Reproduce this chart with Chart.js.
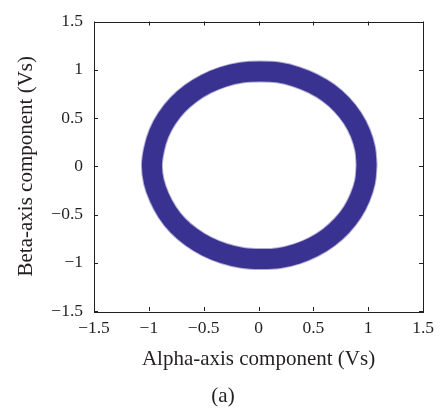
<!DOCTYPE html>
<html>
<head>
<meta charset="utf-8">
<script src="https://cdn.jsdelivr.net/npm/chart.js@4"></script>
<style>
  html, body { margin: 0; padding: 0; background: #fff; }
  #wrap { position: relative; width: 441px; height: 413px; }
  #caption {
    position: absolute; left: 0; width: 441px; top: 383px;
    text-align: center; font-family: 'Liberation Serif', serif; font-size: 21px; color: #231f20;
    padding-left: 5px; box-sizing: border-box;
  }
</style>
</head>
<body>
<div id="wrap">
  <canvas id="fluxChart" width="441" height="413"></canvas>
  <div id="caption">(a)</div>
</div>
<script>
// Stator flux trajectory (centre line of the ring)
const alphaFlux = [0.985, 0.972, 0.928, 0.856, 0.758, 0.638, 0.497, 0.342, 0.178, 0.012,
  -0.158, -0.322, -0.478, -0.618, -0.738, -0.835, -0.908, -0.952, -0.972, -0.955,
  -0.905, -0.832, -0.735, -0.612, -0.472, -0.315, -0.148, 0.022, 0.188, 0.350,
  0.502, 0.640, 0.758, 0.855, 0.926, 0.971, 0.985];
const betaFlux = [0.012, 0.180, 0.345, 0.500, 0.640, 0.760, 0.856, 0.928, 0.972, 0.982,
  0.970, 0.926, 0.853, 0.755, 0.636, 0.497, 0.342, 0.178, 0.010, -0.158,
  -0.322, -0.476, -0.615, -0.735, -0.832, -0.905, -0.950, -0.962, -0.952, -0.908,
  -0.836, -0.738, -0.618, -0.478, -0.322, -0.160, 0.012];
const tickValues = [-1.5, -1, -0.5, 0, 0.5, 1, 1.5];

const ringColor = '#3a3391';
const fringeColor = 'rgba(58, 51, 145, 0.4)';
const textColor = '#231f20';
const serif = "'Liberation Serif', 'DejaVu Serif', serif";

const fmt = v => String(v).replace('-', '\u2212');
const points = alphaFlux.map((a, i) => ({ x: a, y: betaFlux[i] }));

// inward ticks on all four sides plus the closed frame
const frameTicks = {
  id: 'frameTicks',
  afterDraw(chart) {
    const { ctx, chartArea: a, scales: { x, y } } = chart;
    const len = 4;
    ctx.save();
    ctx.strokeStyle = '#231f20';
    ctx.lineWidth = 1;
    ctx.beginPath();
    tickValues.forEach(v => {
      const px = Math.round(x.getPixelForValue(v)) + 0.5;
      ctx.moveTo(px, a.bottom); ctx.lineTo(px, a.bottom - len);
      ctx.moveTo(px, a.top); ctx.lineTo(px, a.top + len);
      const py = Math.round(y.getPixelForValue(v)) + 0.5;
      ctx.moveTo(a.left, py); ctx.lineTo(a.left + len, py);
      ctx.moveTo(a.right, py); ctx.lineTo(a.right - len, py);
    });
    ctx.stroke();
    ctx.strokeRect(Math.round(a.left) + 0.5, Math.round(a.top) + 0.5,
      Math.round(a.right - a.left), Math.round(a.bottom - a.top));
    ctx.restore();
  }
};

new Chart(document.getElementById('fluxChart'), {
  type: 'scatter',
  data: {
    datasets: [{
      // slightly ragged edge of the noisy trajectory
      data: points,
      showLine: true,
      borderColor: fringeColor,
      borderWidth: 22,
      borderCapStyle: 'round',
      tension: 0.4,
      pointRadius: 0
    }, {
      data: points,
      showLine: true,
      borderColor: ringColor,
      borderWidth: 20,
      borderCapStyle: 'round',
      tension: 0.4,
      pointRadius: 0
    }]
  },
  options: {
    responsive: false,
    animation: false,
    layout: { padding: { top: 14, right: 17, left: 0, bottom: 41 } },
    plugins: { legend: { display: false }, tooltip: { enabled: false } },
    scales: {
      x: {
        min: -1.5, max: 1.5,
        afterFit: s => { s.height = 61; },
        afterBuildTicks: s => { s.ticks = tickValues.map(v => ({ value: v })); },
        grid: { display: false, drawTicks: false },
        border: { display: false },
        ticks: { color: textColor, padding: 7, maxRotation: 0, font: { family: serif, size: 17.5 }, callback: fmt },
        title: { display: true, text: 'Alpha-axis component (Vs)', color: textColor,
          font: { family: serif, size: 21 }, padding: { top: 0, bottom: 0 } }
      },
      y: {
        min: -1.5, max: 1.5,
        afterFit: s => { s.width = 94; },
        afterBuildTicks: s => { s.ticks = tickValues.map(v => ({ value: v })); },
        grid: { display: false, drawTicks: false },
        border: { display: false },
        ticks: { color: textColor, padding: 11, font: { family: serif, size: 17.5 }, callback: fmt },
        title: { display: true, text: 'Beta-axis component (Vs)', color: textColor,
          font: { family: serif, size: 21 }, padding: { top: 14, bottom: 0 } }
      }
    }
  },
  plugins: [frameTicks]
});
</script>
</body>
</html>
